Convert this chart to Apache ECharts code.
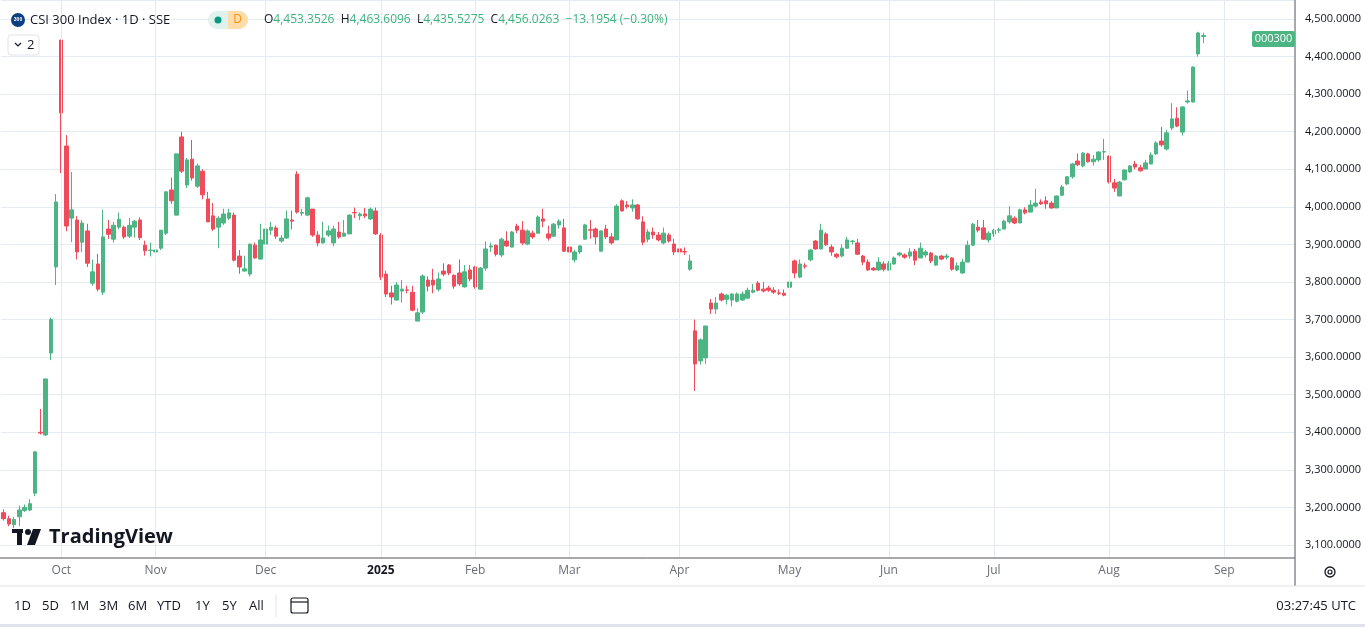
<!DOCTYPE html>
<html>
<head>
    <meta charset="utf-8">
    <title>CSI 300 Index</title>
    <script src="https://cdn.jsdelivr.net/npm/echarts@6/dist/echarts.min.js"></script>
    <style>
        html, body { margin: 0; padding: 0; background: #fff; }
        #main { width: 1365px; height: 627px; }
    </style>
</head>
<body>
    <div id="main"></div>
    <script type="text/javascript">
        // candles as [open, close, low, high]
        var sepOct = [
            [3186,3170,3165,3195],[3170,3156,3150,3178],[3154,3168,3145,3175],[3175,3193,3150,3205],[3192,3200,3188,3208],
            [3193,3210,3190,3222],[3238,3348,3230,3348],[3400,3398,3394,3462],[3393,3542,3390,3542],[3611,3700,3592,3705],
            [3840,4013,3792,4034],[4444,4250,4090,4444],[4162,3949,3935,4191],[3970,3992,3906,4093],[3965,3880,3860,3975],
            [3906,3957,3880,3965],[3936,3850,3840,3955],[3797,3827,3790,3860],[3848,3781,3775,3875],[3773,3920,3765,3992],
            [3941,3927,3915,3965],[3914,3951,3905,3960],[3946,3967,3940,3985],[3946,3920,3915,3950],[3922,3951,3917,3970],
            [3946,3962,3918,3965],[3965,3918,3912,3972],[3898,3883,3870,3910],[3884,3885,3868,3905],[3880,3885,3875,3910],
            [3890,3938,3885,3938],[3930,4040,3925,4042],[4045,4016,4008,4078],[3978,4141,3978,4141],[4186,4095,4090,4200],
            [4058,4125,4050,4130],[4127,4077,4070,4178],[4055,4109,4050,4115],[4095,4032,4020,4100],[4021,3960,3960,4040],
            [3976,3941,3936,4010],[3946,3970,3890,3975]
        ];
        var novJan = [
            [3957,3981,3952,3995],[3970,3984,3965,3995],[3978,3858,3855,3985],[3869,3840,3822,3885],[3829,3835,3828,3870],
            [3821,3901,3815,3901],[3898,3864,3862,3905],[3861,3912,3861,3955],[3901,3941,3898,3945],[3938,3946,3925,3960],
            [3944,3922,3915,3950],[3909,3917,3905,3925],[3917,3968,3915,3990],[3965,3962,3940,3990],[4087,3986,3982,4095],
            [3983,3985,3975,3995],[3978,4024,3975,4027],[3994,3925,3920,3994],[3925,3904,3895,3935],[3904,3917,3902,3960],
            [3925,3936,3920,3950],[3904,3941,3895,3950],[3933,3920,3915,3960],[3922,3930,3920,3965],[3928,3978,3928,3980],
            [3985,3984,3970,3998],[3976,3981,3965,3985],[3981,3976,3970,3997],[3968,3994,3965,3998],[3989,3928,3925,3998],
            [3925,3813,3805,3930],[3821,3768,3760,3830],[3771,3760,3740,3790],[3752,3792,3750,3800],[3776,3781,3745,3805],
            [3779,3778,3770,3790],[3773,3725,3722,3790],[3696,3718,3695,3730],[3720,3816,3715,3820],[3805,3789,3775,3815],
            [3805,3792,3770,3835]
        ];
        var janApr = [
            [3781,3808,3775,3825],[3829,3821,3815,3850],[3845,3824,3818,3848],[3818,3789,3782,3820],[3824,3795,3790,3860],
            [3787,3827,3785,3845],[3832,3808,3802,3845],[3840,3787,3782,3843],[3781,3837,3780,3840],[3837,3888,3830,3908],
            [3893,3896,3880,3905],[3898,3874,3868,3900],[3872,3914,3866,3918],[3909,3896,3893,3935],[3893,3933,3892,3936],
            [3949,3938,3930,3955],[3938,3904,3898,3962],[3901,3936,3898,3940],[3930,3920,3915,3937],[3930,3973,3928,3977],
            [3968,3962,3946,3995],[3928,3917,3910,3950],[3922,3954,3920,3957],[3952,3962,3942,3967],[3944,3882,3880,3968],
            [3893,3880,3860,3925],[3859,3880,3852,3885],[3880,3896,3875,3898],[3914,3952,3912,3955],[3939,3938,3915,3965],
            [3941,3920,3900,3945],[3882,3936,3882,3936],[3941,3920,3915,3952],[3920,3904,3900,3930],[3912,4002,3912,4007],
            [4016,3989,3988,4020],[4005,4000,3995,4015],[3997,4005,3987,4020],[4005,3968,3966,4008],[3960,3906,3898,3975],
            [3914,3933,3906,3940],[3933,3925,3915,3945],[3925,3912,3908,3933],[3904,3930,3900,3945],[3925,3909,3905,3930],
            [3901,3880,3872,3915],[3888,3880,3875,3895],[3881,3880,3872,3892],[3834,3856,3830,3872]
        ];
        var aprJun = [
            [3670,3582,3510,3700],[3590,3646,3580,3650],[3598,3683,3582,3683],[3744,3728,3715,3755],[3728,3744,3715,3760],
            [3768,3752,3748,3772],[3754,3765,3740,3768],[3752,3768,3735,3770],[3749,3768,3746,3772],[3752,3768,3750,3775],
            [3757,3778,3755,3785],[3773,3778,3770,3795],[3797,3778,3775,3802],[3781,3776,3772,3800],[3784,3778,3774,3790],
            [3778,3773,3768,3786],[3771,3770,3765,3780],[3770,3765,3762,3780],[3786,3800,3780,3802],[3856,3824,3810,3860],
            [3813,3848,3810,3860],[3843,3842,3835,3850],[3859,3885,3855,3888],[3909,3888,3886,3912],[3888,3938,3886,3955],
            [3928,3899,3896,3932],[3893,3880,3870,3900],[3874,3867,3863,3877],[3869,3890,3866,3900],[3890,3912,3888,3920],
            [3908,3909,3900,3912],[3904,3874,3872,3915],[3869,3853,3845,3872],[3853,3832,3830,3860],[3837,3832,3830,3840],
            [3832,3853,3830,3866],[3848,3834,3828,3855],[3832,3850,3830,3856],[3848,3864,3846,3868],[3872,3877,3868,3880]
        ];
        var junAug = [
            [3872,3866,3862,3876],[3869,3880,3862,3890],[3882,3858,3845,3888],[3864,3890,3864,3905],[3872,3880,3865,3885],
            [3877,3856,3850,3880],[3845,3869,3843,3872],[3869,3861,3858,3872],[3866,3869,3860,3875],[3864,3834,3830,3866],
            [3832,3843,3829,3852],[3824,3853,3822,3862],[3853,3898,3853,3910],[3898,3954,3896,3957],[3946,3938,3932,3965],
            [3944,3914,3912,3965],[3912,3930,3905,3935],[3928,3938,3920,3942],[3938,3939,3930,3945],[3941,3962,3940,3966],
            [3960,3976,3955,4002],[3970,3957,3954,3975],[3957,3992,3957,3995],[3992,3984,3980,3999],[3986,4005,3986,4018],
            [4002,4010,3998,4048],[4013,4008,4005,4020],[4016,4008,3995,4028],[4010,3997,3995,4015],[3997,4029,3997,4030],
            [4031,4053,4030,4058],[4061,4080,4058,4082],[4080,4114,4075,4117],[4122,4112,4108,4142],[4109,4143,4105,4146],
            [4141,4120,4118,4144],[4120,4127,4110,4138],[4125,4146,4120,4148],[4146,4147,4125,4181],[4135,4066,4062,4137]
        ];
        var aug = [
            [4064,4050,4040,4074],[4029,4066,4029,4069],[4072,4098,4070,4100],[4093,4109,4091,4111],[4114,4106,4100,4122],
            [4104,4096,4094,4112],[4101,4117,4099,4125],[4114,4138,4114,4145],[4141,4170,4138,4175],[4175,4165,4160,4213],
            [4154,4197,4150,4205],[4210,4234,4204,4276],[4236,4215,4212,4265],[4199,4266,4190,4268],[4279,4282,4275,4310],
            [4279,4372,4278,4374],[4407,4463,4400,4466],[4453.3526,4456.0263,4435.5275,4463.6096]
        ];
        // month labels: [category index, text]
        var monthTicks = [[11,'Oct'],[29,'Nov'],[50,'Dec'],[72,'2025'],[90,'Feb'],[108,'Mar'],
            [129,'Apr'],[150,'May'],[169,'Jun'],[189,'Jul'],[211,'Aug'],[233,'Sep']];
        var emptySlots = 17; // blank space right of the last candle
        var yStep = 100;

        var candles = [].concat(sepOct, novJan, janApr, aprJun, junAug, aug);
        var cats = [];
        for (var i = 0; i < candles.length + emptySlots; i++) cats.push(String(i));
        var tickMap = {};
        monthTicks.forEach(function (t) { tickMap[t[0]] = t[1]; });

        var UP = '#4db584', DOWN = '#ef4b5b';
        // 4,500 sits at y=19, 3,100 at y=545; grid spans y 0..582 (bottom part hidden under the time band)
        var pxPer100 = 526 / 14;
        var yMin = 3000;
        var yMax = 4500 + 19 / pxPer100 * 100;
        var gridBottomY = 545 + (3100 - yMin) / 100 * pxPer100;

        var myChart = echarts.init(document.getElementById('main'), null, { renderer: 'canvas' });

        var txt = function (x, y, text, style, z) {
            return { type: 'text', x: x, y: y, z: z || 200, style: Object.assign({ text: text, fill: '#131722',
                font: '13px "Open Sans", sans-serif', textVerticalAlign: 'middle' }, style || {}) };
        };

        option = {
            animation: false,
            grid: { left: 1, right: 70, top: 0, bottom: 627 - gridBottomY },
            xAxis: {
                type: 'category', data: cats, z: 150,
                offset: -(gridBottomY - 558),
                axisLine: { show: false }, axisTick: { show: false }, splitLine: { show: false },
                axisLabel: {
                    interval: 0, margin: 7, fontSize: 12, color: '#6a6d78', fontFamily: '"Open Sans", sans-serif',
                    formatter: function (v, idx) {
                        var t = tickMap[idx];
                        if (!t) return '';
                        return t === '2025' ? '{b|2025}' : t;
                    },
                    rich: { b: { fontWeight: 'bold', color: '#131722', fontSize: 12 } }
                }
            },
            yAxis: {
                type: 'value', position: 'right', min: yMin, max: yMax, interval: yStep,
                axisLine: { show: false }, axisTick: { show: false },
                splitLine: { lineStyle: { color: '#e6ebf1' } },
                axisLabel: {
                    margin: 10, fontSize: 11, color: '#131722', fontFamily: '"Open Sans", sans-serif',
                    showMaxLabel: false,
                    formatter: function (v) {
                        return v.toLocaleString('en-US', { minimumFractionDigits: 4, maximumFractionDigits: 4 });
                    }
                }
            },
            series: [
                {
                    type: 'line', data: [], z: 1, silent: true,
                    markLine: {
                        symbol: 'none', silent: true, label: { show: false },
                        lineStyle: { color: '#e6ebf1', type: 'solid', width: 1 },
                        data: monthTicks.map(function (t) { return { xAxis: t[0] }; })
                    }
                },
                {
                    type: 'candlestick', data: candles, z: 2, barWidth: 4,
                    itemStyle: { color: UP, color0: DOWN, borderColor: UP, borderColor0: DOWN, borderWidth: 1 }
                }
            ],
            graphic: [
                // lower bands
                { type: 'rect', z: 100, shape: { x: 0, y: 558, width: 1365, height: 69 }, style: { fill: '#fff' } },
                { type: 'line', z: 160, shape: { x1: 0, y1: 558, x2: 1295, y2: 558 }, style: { stroke: '#50535e', lineWidth: 1 } },
                { type: 'line', z: 160, shape: { x1: 1295, y1: 0, x2: 1295, y2: 586 }, style: { stroke: '#50535e', lineWidth: 1 } },
                { type: 'line', z: 160, shape: { x1: 0, y1: 586, x2: 1365, y2: 586 }, style: { stroke: '#e0e3eb', lineWidth: 1 } },
                { type: 'rect', z: 160, shape: { x: 0, y: 624, width: 1365, height: 3 }, style: { fill: '#e0e3eb' } },
                { type: 'line', z: 160, shape: { x1: 276, y1: 595, x2: 276, y2: 617 }, style: { stroke: '#e0e3eb', lineWidth: 1 } },
                // header
                { type: 'circle', z: 200, shape: { cx: 18, cy: 20, r: 7 }, style: { fill: '#0c3e82' } },
                txt(18, 20, '300', { font: 'bold 5px sans-serif', fill: '#fff', textAlign: 'center' }, 201),
                txt(30, 20, 'CSI 300 Index · 1D · SSE', { font: '13px "Open Sans", sans-serif' }),
                { type: 'rect', z: 200, shape: { x: 208, y: 11, width: 40, height: 18, r: 9 }, style: { fill: '#dff2ee' } },
                { type: 'rect', z: 201, shape: { x: 228, y: 11, width: 20, height: 18, r: [0, 9, 9, 0] }, style: { fill: '#ffdca8' } },
                { type: 'circle', z: 202, shape: { cx: 218, cy: 20, r: 3.5 }, style: { fill: '#089981' } },
                txt(237.5, 20, 'D', { font: '12px "Open Sans", sans-serif', fill: '#f7931a', textAlign: 'center' }, 203),
                { type: 'text', x: 264, y: 20, z: 200, style: {
                    text: 'O{v|4,453.3526}  H{v|4,463.6096}  L{v|4,435.5275}  C{v|4,456.0263}  {v|−13.1954 (−0.30%)}',
                    font: '12px "Open Sans", sans-serif', fill: '#131722', textVerticalAlign: 'middle',
                    rich: { v: { fill: '#3fb27f', font: '12px "Open Sans", sans-serif' } } } },
                { type: 'rect', z: 200, shape: { x: 8, y: 35, width: 31, height: 20, r: 3 }, style: { fill: '#fff', stroke: '#e0e3eb' } },
                { type: 'polyline', z: 201, shape: { points: [[15, 43], [18, 46], [21, 43]] }, style: { stroke: '#131722', lineWidth: 1.2, fill: 'none' } },
                txt(27, 45, '2', { font: '13px "Open Sans", sans-serif' }, 201),
                // symbol tag
                { type: 'rect', z: 200, shape: { x: 1252, y: 31, width: 43, height: 16, r: 2 }, style: { fill: '#4db584' } },
                txt(1273.5, 39, '000300', { font: '11px "Open Sans", sans-serif', fill: '#fff', textAlign: 'center' }, 201),
                // watermark
                { type: 'rect', z: 90, shape: { x: 12, y: 529, width: 11, height: 4 }, style: { fill: '#131722' } },
                { type: 'rect', z: 90, shape: { x: 17, y: 529, width: 5, height: 16 }, style: { fill: '#131722' } },
                { type: 'circle', z: 90, shape: { cx: 28, cy: 532, r: 3 }, style: { fill: '#131722' } },
                { type: 'polygon', z: 90, shape: { points: [[33, 529], [41, 529], [35, 545], [27, 545]] }, style: { fill: '#131722' } },
                txt(49, 537, 'TradingView', { font: 'bold 20px "Open Sans", sans-serif' }, 90),
                // toolbar
                txt(14, 606, '1D', {}), txt(42, 606, '5D', {}), txt(70, 606, '1M', {}), txt(99, 606, '3M', {}),
                txt(128, 606, '6M', {}), txt(157, 606, 'YTD', {}), txt(195, 606, '1Y', {}), txt(222, 606, '5Y', {}),
                txt(249, 606, 'All', {}),
                { type: 'rect', z: 200, shape: { x: 291, y: 598, width: 17, height: 15, r: 2 }, style: { fill: 'none', stroke: '#131722', lineWidth: 1.2 } },
                { type: 'line', z: 200, shape: { x1: 291, y1: 602, x2: 308, y2: 602 }, style: { stroke: '#131722', lineWidth: 1.2 } },
                txt(1356, 606, '03:27:45 UTC', { textAlign: 'right' }),
                { type: 'circle', z: 200, shape: { cx: 1330, cy: 572, r: 5 }, style: { fill: 'none', stroke: '#131722', lineWidth: 1.3 } },
                { type: 'circle', z: 200, shape: { cx: 1330, cy: 572, r: 2 }, style: { fill: 'none', stroke: '#131722', lineWidth: 1.2 } }
            ]
        };

        myChart.setOption(option);
    </script>
</body>
</html>
